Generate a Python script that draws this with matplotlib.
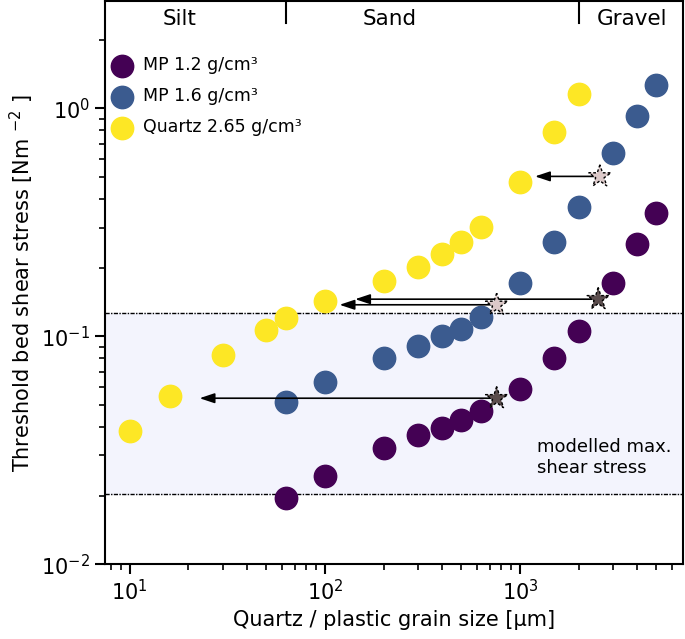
import matplotlib.pyplot as plt

# grain sizes (um)
size_quartz = [10, 16, 30, 50, 63, 100, 200, 300, 400, 500, 630, 1000, 1500, 2000]
tau_quartz = [0.0383, 0.0546, 0.0826, 0.107, 0.120, 0.1425, 0.174, 0.201, 0.229, 0.258, 0.303, 0.474, 0.785, 1.16]

size_mp = [63, 100, 200, 300, 400, 500, 630, 1000, 1500, 2000, 3000, 4000, 5000]
tau_mp16 = [0.0514, 0.0628, 0.080, 0.0904, 0.100, 0.108, 0.122, 0.171, 0.258, 0.368, 0.635, 0.93, 1.26]
tau_mp12 = [0.0195, 0.0243, 0.0323, 0.0368, 0.0395, 0.0428, 0.0469, 0.0586, 0.080, 0.106, 0.171, 0.253, 0.347]

# observed particles (stars) and their quartz equivalents (arrow tips)
star_x = [2570, 2520, 760, 760]
star_y = [0.503, 0.1455, 0.1375, 0.0535]
star_col = ['#dcc9c9', '#5b4d4d', '#dcc9c9', '#5b4d4d']
arrow_to = [1195, 143, 119, 22.8]

shear_band = (0.0203, 0.126)
class_bounds = [63, 2000]
class_names = ['Silt', 'Sand', 'Gravel']
class_pos = [18, 215, 3750]

fig = plt.figure(figsize=(6.85, 6.39), dpi=100)
ax = fig.add_axes([0.153, 0.117, 0.844, 0.881])
ax.set_xscale('log')
ax.set_yscale('log')
ax.set_xlim(7.45, 6850)
ax.set_ylim(0.01, 2.95)

# modelled shear stress band
ax.axhspan(*shear_band, color='#f3f4fd', zorder=0)
for yv in shear_band:
    ax.axhline(yv, color='k', lw=1, ls=(0, (3, 1, 1, 1)), zorder=1)

ms = 260
ax.scatter(size_mp, tau_mp12, s=ms, color='#440154', label='MP 1.2 g/cm³', zorder=2)
ax.scatter(size_mp, tau_mp16, s=ms, color='#3b5b8f', label='MP 1.6 g/cm³', zorder=2)
ax.scatter(size_quartz, tau_quartz, s=ms, color='#fde725', label='Quartz 2.65 g/cm³', zorder=2)

for x0, y0, x1 in zip(star_x, star_y, arrow_to):
    ax.annotate('', xy=(x1, y0), xytext=(x0 * 0.93, y0),
                arrowprops=dict(arrowstyle='-|>,head_length=0.9,head_width=0.3',
                                color='k', lw=1.2, shrinkA=0, shrinkB=0),
                zorder=3)
ax.scatter(star_x, star_y, s=280, marker='*', c=star_col, edgecolors='k',
           linewidths=1, linestyle=(0, (2, 1.5)), zorder=4)

# grain size classes
for b in class_bounds:
    ax.axvline(b, ymin=0.961, ymax=1, color='k', lw=1.5)
for name, xp in zip(class_names, class_pos):
    ax.text(xp, 0.968, name, transform=ax.get_xaxis_transform(),
            ha='center', va='center', fontsize=15.5)

ax.text(1222, 0.0295, 'modelled max.\nshear stress', fontsize=13,
        va='center', ha='left', linespacing=1.2)

ax.legend(loc='upper left', bbox_to_anchor=(-0.012, 0.915), frameon=False,
          fontsize=12.5, handletextpad=0.2, labelspacing=0.75, borderaxespad=0)

ax.tick_params(labelsize=15, which='major', length=7, width=1.5)
ax.tick_params(which='minor', length=4, width=1.2)
ax.set_xlabel('Quartz / plastic grain size [µm]', fontsize=15)
ax.set_ylabel('Threshold bed shear stress [Nm $^{-2}$ ]', fontsize=15)
for sp in ax.spines.values():
    sp.set_linewidth(1.5)

fig.savefig('out.png', dpi=100)
